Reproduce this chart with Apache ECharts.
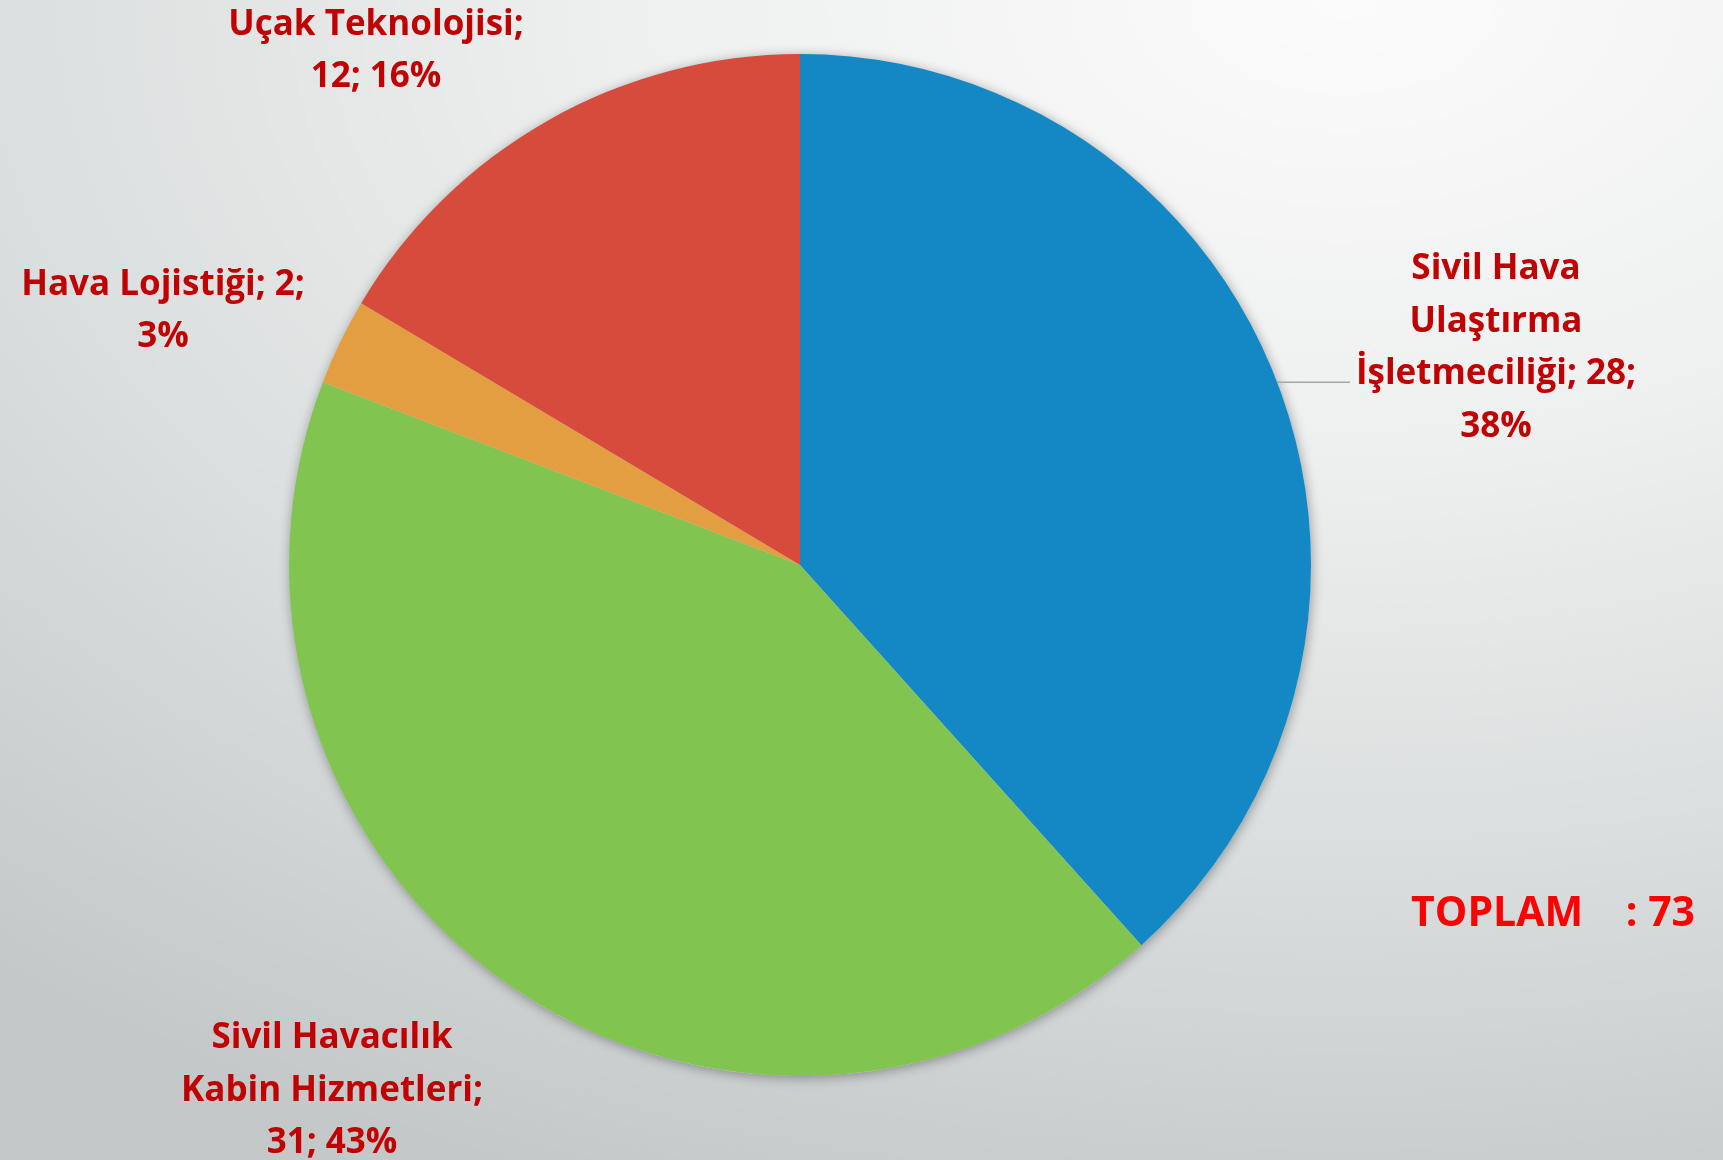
<!DOCTYPE html>
<html>
<head>
<meta charset="utf-8">
<script src="https://cdn.jsdelivr.net/npm/echarts@6/dist/echarts.min.js"></script>
<style>
  html, body { margin: 0; padding: 0; }
  body { width: 1723px; height: 1160px; overflow: hidden;
    background: radial-gradient(ellipse 120% 110% at 78% 0%, #fbfbfb 0%, #eeefef 35%, #dcdfdf 65%, #c4c8c9 100%); }
  #chart { width: 1723px; height: 1160px; }
</style>
</head>
<body>
<div id="chart"></div>
<script>
const categories = ['Sivil Hava Ulaştırma İşletmeciliği', 'Sivil Havacılık Kabin Hizmetleri', 'Hava Lojistiği', 'Uçak Teknolojisi'];
const values = [28, 31, 2, 12];
const sliceColors = ['#1488C5', '#82C450', '#E29E40', '#D64B3C'];
const totalLabel = 'TOPLAM';

const total = values.reduce((a, b) => a + b, 0);

function wrapWords(text, maxChars) {
  const words = text.split(' ');
  const lines = [];
  let cur = '';
  words.forEach(w => {
    const next = cur ? cur + ' ' + w : w;
    if (next.length > maxChars && cur) { lines.push(cur); cur = w; }
    else cur = next;
  });
  if (cur) lines.push(cur);
  return lines.join('\n');
}

const chart = echarts.init(document.getElementById('chart'), null, { renderer: 'canvas' });

const labelAnchors = [[1496, 348], [332, 1091], [163, 311], [376, 51]];

chart.setOption({
  backgroundColor: 'transparent',
  animation: false,
  graphic: [{
    type: 'text',
    left: 1411,
    top: 894,
    style: {
      text: totalLabel + '    : ' + total,
      font: 'bold 41px "Open Sans"',
      fill: '#FF0000'
    }
  }],
  series: [
    {
      type: 'pie',
      silent: true,
      center: [800, 565],
      radius: 511,
      z: 1,
      label: { show: false },
      labelLine: { show: false },
      itemStyle: { color: '#cfd3d4', shadowBlur: 12, shadowColor: 'rgba(0,0,0,0.35)', shadowOffsetX: 1, shadowOffsetY: 2 },
      data: [{ value: total, name: 'bg' }]
    },
    {
      type: 'pie',
      z: 2,
      center: [800, 565],
      radius: 511,
      startAngle: 90,
      clockwise: true,
      percentPrecision: 0,
      avoidLabelOverlap: false,
      itemStyle: { borderWidth: 0 },
      label: {
        show: true,
        position: 'outside',
        color: '#C00000',
        fontFamily: '"Open Sans"',
        fontWeight: 'bold',
        fontSize: 35,
        lineHeight: 52.5,
        align: 'center',
        formatter: p => wrapWords(p.name + '; ' + p.value + '; ' + p.percent + '%', 18)
      },
      labelLine: { show: false },
      labelLayout: function (params) {
        const i = params.dataIndex;
        const a = labelAnchors[i];
        const res = { x: a[0], y: a[1], align: 'center', verticalAlign: 'middle' };
        if (i === 0 && params.labelLinePoints) {
          const p0 = params.labelLinePoints[0];
          res.labelLinePoints = [[p0[0], p0[1]], [1350, p0[1]], [1350, p0[1]]];
        }
        return res;
      },
      data: categories.map((c, i) => ({
        name: c,
        value: values[i],
        itemStyle: { color: sliceColors[i] },
        labelLine: i === 0 ? { show: true, length: 20, length2: 20, lineStyle: { color: '#a6a6a6', width: 1.5 } } : { show: false }
      }))
    }
  ]
});
</script>
</body>
</html>
